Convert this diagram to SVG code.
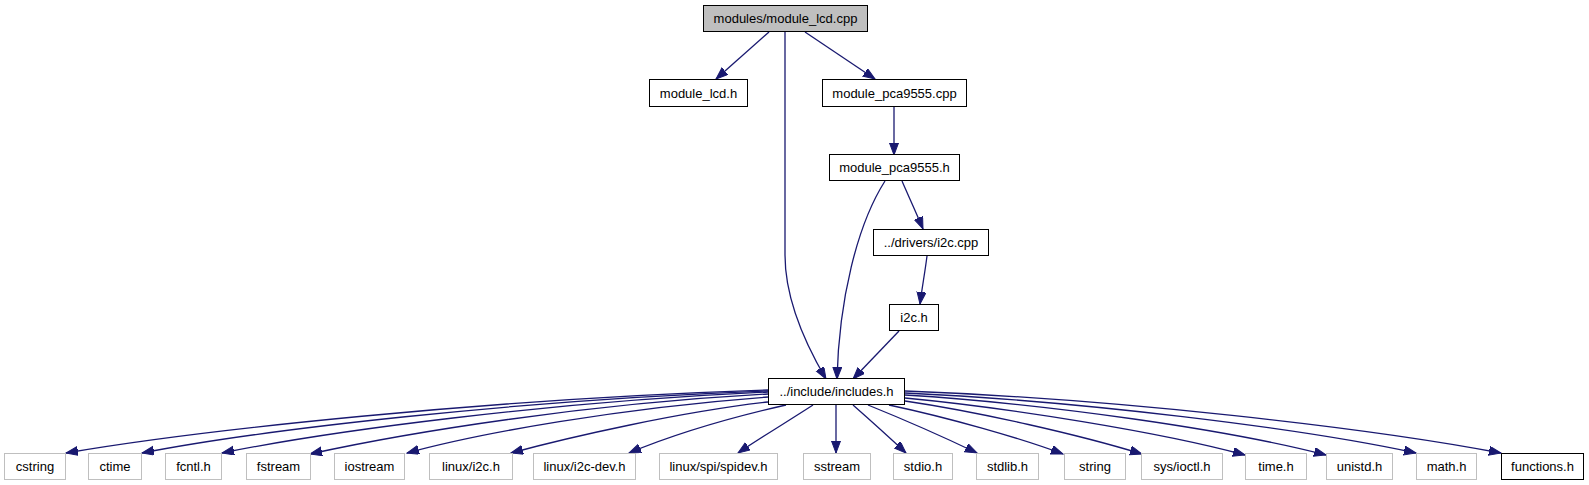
<svg xmlns="http://www.w3.org/2000/svg" width="1589" height="485" viewBox="0 0 1589 485">
<style>
  .n rect { fill: #ffffff; stroke: #000000; stroke-width: 1; }
  .g rect { fill: #ffffff; stroke: #bfbfbf; stroke-width: 1; }
  .root rect { fill: #bfbfbf; stroke: #000000; stroke-width: 1; }
  text { font-family: "Liberation Sans", Arial, Helvetica, sans-serif; font-size: 13px; fill: #000000; text-anchor: middle; }
  .e path { fill: none; stroke: #191970; stroke-width: 1.3; marker-end: url(#ah); }
</style>
<defs>
  <marker id="ah" markerUnits="userSpaceOnUse" markerWidth="14" markerHeight="10" refX="12" refY="4.5" orient="auto" viewBox="0 0 14 10">
    <path d="M0,0 L12,4.5 L0,9 z" fill="#191970" stroke="#191970" stroke-width="1"/>
  </marker>
</defs>
<rect x="0" y="0" width="1589" height="485" fill="#ffffff"/>

<g id="edges" class="e">
  <path d="M769,32 L716,79"/>
  <path d="M805,32 L875,79"/>
  <path d="M785,32 L785,255 C785,300 806,345 826,379"/>
  <path d="M894,107 L894,155"/>
  <path d="M902,181 C908,195 916,212 923,229"/>
  <path d="M885,181 C857,225 839,300 837,379"/>
  <path d="M927,256 C925,272 922,288 920,304"/>
  <path d="M899,331 L853,379"/>

  <path d="M768,390 C487,399 200,430 66,453"/>
  <path d="M768,391 C517,400 260,430 142,453"/>
  <path d="M768,392 C548,402 330,431 222,453"/>
  <path d="M768,394 C585,404 410,432 310,454"/>
  <path d="M768,397 C620,408 480,433 407,453"/>
  <path d="M768,402 C680,412 570,437 511,453"/>
  <path d="M786,405 C720,420 665,438 629,453"/>
  <path d="M813,405 C790,420 760,438 738,453"/>
  <path d="M836,405 L836,453"/>
  <path d="M853,405 C870,420 890,438 906,453"/>
  <path d="M868,405 C905,420 950,440 977,453"/>
  <path d="M889,405 C950,418 1020,438 1063,454"/>
  <path d="M905,401 C980,412 1080,435 1142,454"/>
  <path d="M905,398 C1010,408 1160,432 1245,455"/>
  <path d="M905,395 C1050,404 1230,430 1326,455"/>
  <path d="M905,393 C1080,401 1300,428 1416,453"/>
  <path d="M905,391 C1120,399 1370,428 1501,453"/>
</g>

<g id="node-root" class="root"><rect x="703.5" y="5.5" width="164" height="26"/><text x="785.5" y="23">modules/module_lcd.cpp</text></g>
<g id="node-module_lcd_h" class="n"><rect x="649.5" y="79.5" width="98" height="27"/><text x="698.5" y="98">module_lcd.h</text></g>
<g id="node-module_pca9555_cpp" class="n"><rect x="822.5" y="79.5" width="144" height="27"/><text x="894.5" y="98">module_pca9555.cpp</text></g>
<g id="node-module_pca9555_h" class="n"><rect x="829.5" y="154.5" width="130" height="26"/><text x="894.5" y="172">module_pca9555.h</text></g>
<g id="node-i2c_cpp" class="n"><rect x="873.5" y="229.5" width="115" height="26"/><text x="931" y="247">../drivers/i2c.cpp</text></g>
<g id="node-i2c_h" class="n"><rect x="889.5" y="304.5" width="49" height="26"/><text x="914" y="322">i2c.h</text></g>
<g id="node-includes_h" class="n"><rect x="768.5" y="378.5" width="136" height="26"/><text x="836.5" y="396">../include/includes.h</text></g>

<g id="node-cstring" class="g"><rect x="4.5" y="453.5" width="61" height="26"/><text x="35" y="471">cstring</text></g>
<g id="node-ctime" class="g"><rect x="88.5" y="453.5" width="53" height="26"/><text x="115" y="471">ctime</text></g>
<g id="node-fcntl_h" class="g"><rect x="165.5" y="453.5" width="56" height="26"/><text x="193.5" y="471">fcntl.h</text></g>
<g id="node-fstream" class="g"><rect x="246.5" y="453.5" width="64" height="26"/><text x="278.5" y="471">fstream</text></g>
<g id="node-iostream" class="g"><rect x="334.5" y="453.5" width="70" height="26"/><text x="369.5" y="471">iostream</text></g>
<g id="node-linux_i2c_h" class="g"><rect x="429.5" y="453.5" width="83" height="26"/><text x="471" y="471">linux/i2c.h</text></g>
<g id="node-linux_i2c_dev_h" class="g"><rect x="533.5" y="453.5" width="102" height="26"/><text x="584.5" y="471">linux/i2c-dev.h</text></g>
<g id="node-linux_spi_spidev_h" class="g"><rect x="659.5" y="453.5" width="118" height="26"/><text x="718.5" y="471">linux/spi/spidev.h</text></g>
<g id="node-sstream" class="g"><rect x="803.5" y="453.5" width="67" height="26"/><text x="837" y="471">sstream</text></g>
<g id="node-stdio_h" class="g"><rect x="893.5" y="453.5" width="59" height="26"/><text x="923" y="471">stdio.h</text></g>
<g id="node-stdlib_h" class="g"><rect x="976.5" y="453.5" width="62" height="26"/><text x="1007.5" y="471">stdlib.h</text></g>
<g id="node-string" class="g"><rect x="1064.5" y="453.5" width="61" height="26"/><text x="1095" y="471">string</text></g>
<g id="node-sys_ioctl_h" class="g"><rect x="1141.5" y="453.5" width="81" height="26"/><text x="1182" y="471">sys/ioctl.h</text></g>
<g id="node-time_h" class="g"><rect x="1245.5" y="453.5" width="61" height="26"/><text x="1276" y="471">time.h</text></g>
<g id="node-unistd_h" class="g"><rect x="1326.5" y="453.5" width="66" height="26"/><text x="1359.5" y="471">unistd.h</text></g>
<g id="node-math_h" class="g"><rect x="1416.5" y="453.5" width="60" height="26"/><text x="1446.5" y="471">math.h</text></g>
<g id="node-functions_h" class="n"><rect x="1501.5" y="453.5" width="82" height="26"/><text x="1542.5" y="471">functions.h</text></g>
</svg>
